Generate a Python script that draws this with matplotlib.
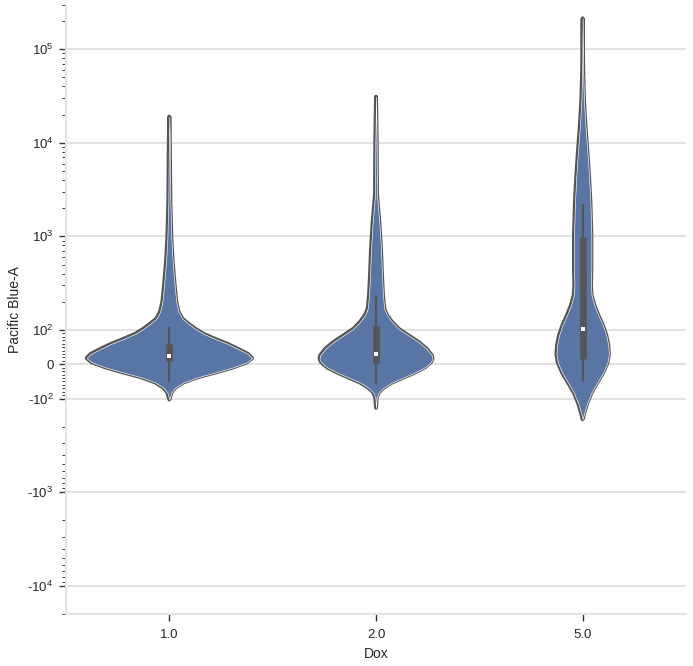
import numpy as np
import matplotlib
matplotlib.use("Agg")
import matplotlib.pyplot as plt
from matplotlib.ticker import FixedLocator, FixedFormatter

plt.rcParams['font.family'] = ['Liberation Sans', 'DejaVu Sans']
plt.rcParams['mathtext.default'] = 'regular'

# categories on x
dox = ["1.0", "2.0", "5.0"]

# violin outlines: y value -> relative density (1 = widest)
v1_y = [19000, 10000, 2340, 947, 534, 301, 199, 156, 132, 117, 103, 89, 74, 60, 45, 30, 18, 6,
        -9, -24, -38, -53, -68, -82, -102]
v1_d = [0, .006, .012, .024, .04, .064, .084, .112, .157, .229, .313, .41, .554, .699, .831, .952, 1.0, .94,
        .771, .554, .337, .169, .072, .024, 0]

v2_y = [31000, 10240, 2760, 1430, 741, 385, 235, 169, 144, 122, 103, 84, 65, 45, 26, 16, 6,
        -9, -24, -38, -53, -68, -82, -97, -125]
v2_d = [0, .008, .012, .04, .06, .072, .084, .1, .133, .193, .273, .394, .514, .614, .675, .683, .663,
        .59, .47, .337, .193, .093, .033, .008, 0]

v3_y = [213000, 57400, 27470, 14220, 8010, 4515, 2339, 1030, 453, 301, 235, 184, 144, 112, 84, 55, 30, 6,
        -24, -53, -82, -110, -141, -166]
v3_d = [0, .006, .016, .036, .057, .076, .093, .105, .105, .1, .108, .141, .189, .245, .286, .31, .317, .301,
        .249, .177, .108, .057, .02, 0]

# box stats: whisker low, q1, median, q3, whisker high
box1 = [-53, 11, 24, 60, 108]
box2 = [-58, 3, 31, 110, 231]
box3 = [-48, 16, 102, 988, 2244]

violins = [(v1_y, v1_d, box1), (v2_y, v2_d, box2), (v3_y, v3_d, box3)]

fill_c = "#5975a4"
line_c = "#555555"

fig = plt.figure(figsize=(6.93, 6.66), dpi=100)
ax = fig.add_axes([66/693, 1 - 614/666, 620/693, (614 - 4.5)/666])

ax.set_yscale('symlog', linthresh=100, linscale=0.33)

for i, (vy, vd, bx) in enumerate(violins):
    vy = np.array(vy, dtype=float)
    w = np.array(vd) * 0.4
    edge = ax.fill_betweenx(vy, i - w, i + w, facecolor='none', edgecolor=line_c, lw=2.9, zorder=2)
    edge.set_joinstyle('round')
    body = ax.fill_betweenx(vy, i - w, i + w, facecolor=fill_c, edgecolor='white', lw=0.45, zorder=3)
    ax.plot([i, i], [bx[0], bx[4]], color=line_c, lw=1.5, solid_capstyle='butt', zorder=4)
    ax.plot([i, i], [bx[1], bx[3]], color=line_c, lw=4.8, solid_capstyle='butt', zorder=4)
    ax.scatter([i], [bx[2]], s=9, marker='s', color='white', zorder=5, linewidths=0)

ax.set_xlim(-0.5, 2.5)
ax.set_ylim(-2e4, 3e5)

# ticks
major = [-1e4, -1e3, -1e2, 0, 1e2, 1e3, 1e4, 1e5]
major_lbl = ['-$10^{4}$', '-$10^{3}$', '-$10^{2}$', '0', '$10^{2}$', '$10^{3}$', '$10^{4}$', '$10^{5}$']
ax.yaxis.set_major_locator(FixedLocator(major))
ax.yaxis.set_major_formatter(FixedFormatter(major_lbl))
minor = []
for k in [2, 3, 4, 5]:
    for m in range(2, 10):
        minor.append(m * 10**k)
        minor.append(-m * 10**k)
minor += [j * 10 for j in range(-9, 10) if j != 0]
ax.yaxis.set_minor_locator(FixedLocator(minor))

ax.set_xticks(range(3))
ax.set_xticklabels(dox)

ax.tick_params(axis='y', which='major', length=5, width=1, color='#333333', labelsize=9.5,
               labelcolor='#262626', pad=4)
ax.tick_params(axis='y', which='minor', length=3, width=0.7, color='#333333')
ax.tick_params(axis='x', length=5, width=1, color='#333333', labelsize=9.5, labelcolor='#262626', pad=6)

ax.yaxis.grid(True, which='major', color='#dddddd', lw=1.2)
ax.set_axisbelow(True)

for s in ['top', 'right']:
    ax.spines[s].set_visible(False)
for s in ['left', 'bottom']:
    ax.spines[s].set_color('#e3e3e3')
    ax.spines[s].set_linewidth(1.5)

ax.set_xlabel("Dox", fontsize=10, color='#262626', labelpad=4)
ax.set_ylabel("Pacific Blue-A", fontsize=10, color='#262626', labelpad=4)

fig.savefig("out.png", dpi=100)
